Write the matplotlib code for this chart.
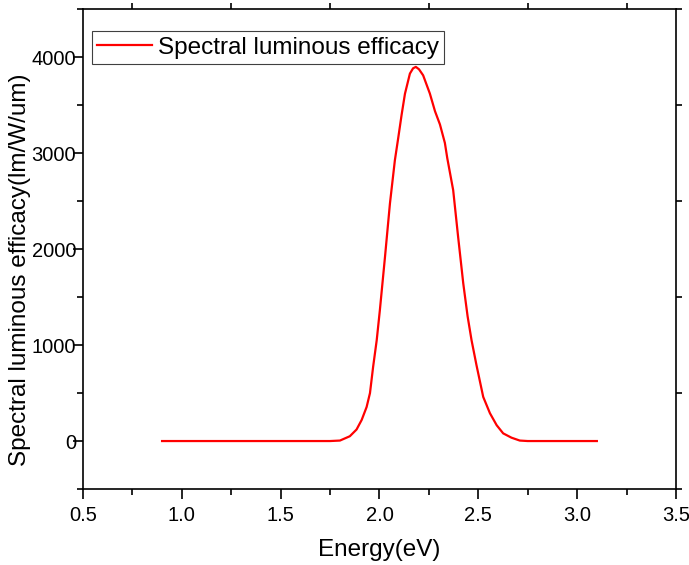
import matplotlib
matplotlib.use('Agg')
import matplotlib.pyplot as plt
from matplotlib.ticker import MultipleLocator

plt.rcParams['font.family'] = ['Liberation Sans', 'DejaVu Sans']

# Spectral luminous efficacy vs photon energy
energy = [0.90, 1.00, 1.20, 1.40, 1.60, 1.75, 1.80, 1.85, 1.884, 1.91, 1.935,
          1.952, 1.968, 1.986, 2.002, 2.028, 2.053, 2.078, 2.095, 2.112, 2.129,
          2.154, 2.170, 2.184, 2.200, 2.221, 2.255, 2.281, 2.306, 2.331, 2.343,
          2.373, 2.398, 2.424, 2.446, 2.466, 2.491, 2.525, 2.559, 2.593, 2.626,
          2.668, 2.71, 2.75, 2.90, 3.10]
efficacy = [0, 0, 0, 0, 0, 0, 5, 50, 120, 220, 355,
            500, 775, 1050, 1364, 1920, 2476, 2927, 3160, 3400, 3620,
            3830, 3885, 3900, 3875, 3812, 3622, 3438, 3300, 3107, 2950,
            2615, 2128, 1643, 1300, 1050, 790, 460, 290, 165, 80,
            35, 5, 0, 0, 0]

fig = plt.figure(figsize=(6.89, 5.65), dpi=100)
ax = fig.add_axes([0.1205, 0.1345, 0.8605, 0.849])

ax.plot(energy, efficacy, color='#ff0000', lw=1.6, label='Spectral luminous efficacy')

ax.set_xlim(0.5, 3.5)
ax.set_ylim(-500, 4500)
ax.xaxis.set_major_locator(MultipleLocator(0.5))
ax.xaxis.set_minor_locator(MultipleLocator(0.25))
ax.yaxis.set_major_locator(MultipleLocator(1000))
ax.yaxis.set_minor_locator(MultipleLocator(500))
ax.set_yticks([0, 1000, 2000, 3000, 4000])
ax.xaxis.set_major_formatter(matplotlib.ticker.FormatStrFormatter('%.1f'))

ax.tick_params(which='major', direction='out', length=7, width=1.2,
               labelsize=14.5, top=False, right=False)
ax.tick_params(which='minor', direction='out', length=4, width=1.2,
               top=True, right=True, bottom=True, left=True)
ax.tick_params(axis='y', which='major', pad=-2)
ax.tick_params(axis='x', which='major', pad=5)
for s in ax.spines.values():
    s.set_linewidth(1.2)

ax.set_xlabel('Energy(eV)', fontsize=17.5, labelpad=10)
ax.set_ylabel('Spectral luminous efficacy(lm/W/um)', fontsize=17.5)
ax.yaxis.set_label_coords(-0.088, 0.457)

leg = ax.legend(loc='upper left', bbox_to_anchor=(0.015, 0.954), borderaxespad=0,
                fontsize=17.5, frameon=True, fancybox=False, framealpha=1,
                edgecolor='#404040', handlelength=2.25, handletextpad=0.25,
                borderpad=0.22)
leg.get_frame().set_linewidth(0.8)

fig.savefig('out.png', dpi=100)
